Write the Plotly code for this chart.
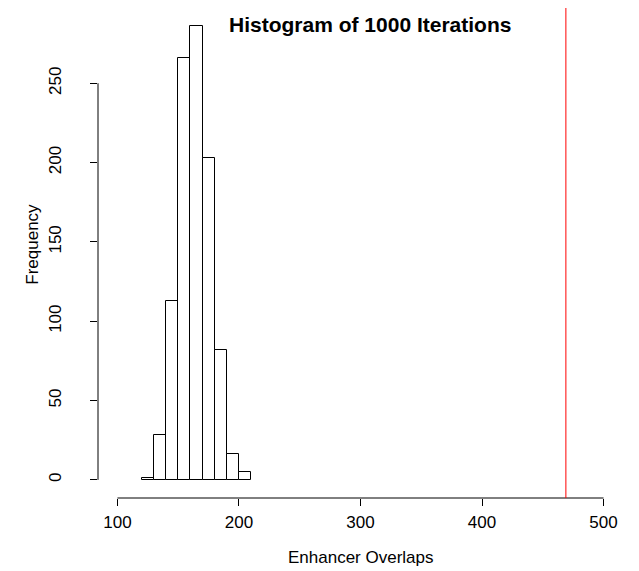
import plotly.graph_objects as go

# Data
bin_edges = [120, 130, 140, 150, 160, 170, 180, 190, 200, 210]
counts = [1, 28, 113, 266, 286, 203, 82, 16, 5]
observed_value = 469
x_ticks = [100, 200, 300, 400, 500]
y_ticks = [0, 50, 100, 150, 200, 250]

centers = [(a + b) / 2 for a, b in zip(bin_edges[:-1], bin_edges[1:])]
widths = [b - a for a, b in zip(bin_edges[:-1], bin_edges[1:])]

W, H = 639, 571
L, R, T, B = 98, 16, 8, 73
pw = W - L - R
ph = H - T - B

def px_x(p):
    return (p - L) / pw

def px_y(p):
    return (H - B - p) / ph

FONT = "Liberation Sans, Arial, sans-serif"

fig = go.Figure()
fig.add_trace(go.Bar(
    x=centers, y=counts, width=widths,
    marker=dict(color="white", line=dict(color="black", width=1)),
    showlegend=False, hoverinfo="x+y",
))

ymax = max(counts)
xr = [100 - 0.04 * 400, 500 + 0.04 * 400]
yr = [-0.04 * ymax, ymax * 1.04]

fig.update_layout(
    width=W, height=H,
    margin=dict(l=L, r=R, t=T, b=B),
    paper_bgcolor="white", plot_bgcolor="white",
    font=dict(family=FONT, size=17, color="black"),
    bargap=0,
    xaxis=dict(range=xr, tickvals=x_ticks, ticks="outside", ticklen=7,
               tickcolor="black", showgrid=False, zeroline=False, showline=False,
               tickfont=dict(size=17), ticklabelstandoff=2),
    yaxis=dict(range=yr, tickvals=y_ticks, ticks="outside", ticklen=7,
               tickcolor="black", showgrid=False, zeroline=False, showline=False,
               tickangle=-90, tickfont=dict(size=17), ticklabelstandoff=22),
    shapes=[
        dict(type="line", xref="x", yref="paper", x0=x_ticks[0], x1=x_ticks[-1],
             y0=0, y1=0, line=dict(color="black", width=1)),
        dict(type="line", xref="paper", yref="y", x0=0, x1=0,
             y0=y_ticks[0], y1=y_ticks[-1], line=dict(color="black", width=1)),
        dict(type="line", xref="x", yref="paper", x0=observed_value, x1=observed_value,
             y0=0, y1=1, line=dict(color="red", width=1)),
    ],
    annotations=[
        dict(text="<b>Histogram of 1000 Iterations</b>", xref="paper", yref="paper",
             x=px_x(370), y=px_y(25), xanchor="center", yanchor="middle",
             showarrow=False, font=dict(size=21, family=FONT)),
        dict(text="Enhancer Overlaps", xref="paper", yref="paper",
             x=px_x(361), y=px_y(557.5), xanchor="center", yanchor="middle",
             showarrow=False, font=dict(size=17, family=FONT)),
        dict(text="Frequency", xref="paper", yref="paper", textangle=-90,
             x=px_x(31.7), y=px_y(244), xanchor="center", yanchor="middle",
             showarrow=False, font=dict(size=17, family=FONT)),
    ],
)

fig.write_html("out.html")
